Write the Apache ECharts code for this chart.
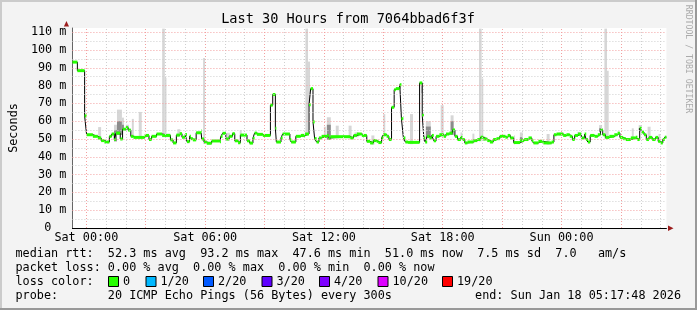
<!DOCTYPE html>
<html><head><meta charset="utf-8">
<script src="https://cdn.jsdelivr.net/npm/echarts@6/dist/echarts.min.js"></script>
<style>html,body{margin:0;padding:0;background:#f3f3f3}#c{width:697px;height:310px}</style>
</head><body><div id="c"></div><script>
// ---------------- data ----------------
const titleText = 'Last 30 Hours from 7064bbad6f3f';
const yAxisName = 'Seconds';
const watermark = 'RRDTOOL / TOBI OETIKER';
// minutes after window start (Fri 23:17:48); window is 30 h = 1800 min
const windowMinutes = 1800;
const xLabels = ['Sat 00:00', 'Sat 06:00', 'Sat 12:00', 'Sat 18:00', 'Sun 00:00'];
const xLabelTimes = [42.2, 402.2, 762.2, 1122.2, 1482.2];
const firstHour = 42.2;
const yMax = 112.36;
// median rtt (ms), step function: value holds from time until next time
const medianTimes = [0,15,37,43,62,77,87,97,112,119,127,132,145,152,162,169,177,185,219,232,240,255,272,297,305,
  315,325,332,342,347,355,359,365,375,390,392,399,407,422,447,450,455,465,475,485,492,502,509,529,537,547,552,559,577,
  600,607,615,618,632,637,659,663,677,692,705,717,722,729,734,740,747,755,772,777,782,842,852,862,877,892,902,
  912,922,927,937,942,952,959,967,975,980,992,997,1003,1009,1017,1052,1060,1065,1069,1075,1082,1089,1095,1102,1112,
  1125,1132,1142,1152,1159,1167,1177,1182,1189,1197,1215,1227,1237,1245,1257,1265,1275,1285,1295,1312,1319,1327,1337,
  1357,1369,1382,1392,1397,1412,1427,1452,1459,1467,1487,1497,1507,1515,1522,1532,1542,1552,1557,1562,1569,1582,1592,
  1600,1607,1615,1627,1642,1652,1659,1669,1677,1692,1707,1712,1719,1725,1732,1739,1747,1757,1767,1775,1782,1789,1795];
const medianValues = [93.2,88.4,63,52.4,51.5,50.6,49.1,48.3,51.5,52.8,49.7,53.3,50,55.5,56.4,55,51.5,50.9,52,49.7,51.5,52.8,52,49.5,47.8,
  52.2,53,51,52.5,48.5,51.6,50.2,49.5,53.5,54.5,50,48.3,47.6,48.9,48.5,51.5,53.2,50,51.5,53,49,47.9,52.2,49,47.7,50.5,53.3,52.6,52,
  69,75,56,48.3,50.6,52.8,49.7,48.3,51.5,52,52.8,69.3,78.3,59.6,50.2,48.3,50.6,51.5,52,50.6,51.3,50.6,52,52.8,52,48.7,47.8,
  49.1,48.7,48,50.6,52.4,51.5,49.7,67.8,77.7,78.3,80.5,61.4,50.6,48.3,48.1,81.5,63.3,50.6,48.3,51.5,50.6,52,49,51.5,52.4,
  51.5,52.8,53.3,55.1,51.5,49.7,50.9,49.7,47.8,48.3,49.1,49.7,51,50,49.1,48.3,49.7,50.2,51.5,51,52,50.6,48,
  49.1,49.7,50.6,49.1,47.8,48.7,47.8,48.3,52.4,52.8,52,52.4,51.5,49.7,52,52.8,50.6,52.8,49.7,48.3,52,51.5,52.4,
  55.1,52.4,50.9,51.5,52.4,53.3,50.9,50.2,49.7,50.6,51,49.7,56,53.9,52.4,49.7,50.9,49.7,50.9,48.7,47.8,49.7,51];
// smoke (spread of the 20 pings): start/end minute, max value, darker inner band top (0 = none)
const smokeStart = [78,126,135,150,162,180,201,272,280,285,318,396,468,507,696,706,714,762,771,798,837,855,906,942,1002,1023,1056,1071,1116,1146,1176,1212,1232,1240,1242,1338,1356,1437,1473,1530,1596,1612,1620,1695,1716,1743,1776];
const smokeEnd   = [87,135,150,156,171,186,210,280,285,297,327,402,477,513,706,714,720,768,783,807,846,867,915,948,1008,1032,1062,1086,1125,1155,1182,1218,1240,1245,1251,1341,1365,1446,1488,1539,1605,1620,1625,1701,1725,1752,1782];
const smokeMax   = [56.7,58,66.5,62,58,61.3,65.2,112,84.4,53,55.5,95.5,53.5,55,53,112,93.5,56.9,62.2,57.5,57.5,53.7,52,64,51,64,75.8,60,69,63.3,53.7,53,112,84,51.5,52,53.7,52.8,53.7,54,57.8,112,88.4,56,57.8,56.9,52.8];
const smokeDark  = [0,55,60,58,56,0,0,0,0,0,0,0,0,0,0,0,0,0,58,0,0,0,0,0,0,0,0,57,0,60,0,0,0,0,0,0,51,0,0,0,56,0,0,0,56,0,0];
// legend texts
const legendLine1 = 'median rtt:  52.3 ms avg  93.2 ms max  47.6 ms min  51.0 ms now  7.5 ms sd  7.0   am/s';
const legendLine2 = 'packet loss: 0.00 % avg  0.00 % max  0.00 % min  0.00 % now';
const legendLine3 = 'loss color:';
const lossLabels = ['0', '1/20', '2/20', '3/20', '4/20', '10/20', '19/20'];
const lossColors = ['#26ff00', '#00b8ff', '#0059ff', '#5e00ff', '#7e00ff', '#dd00ff', '#ff0000'];
const legendLine4 = 'probe:       20 ICMP Echo Pings (56 Bytes) every 300s';
const legendEnd = 'end: Sun Jan 18 05:17:48 2026';

// ---------------- layout / style ----------------
const MONO = '"DejaVu Sans Mono", monospace';
const FS = 11.8;
const lossBoxX = [108, 145.5, 203, 261.5, 319, 377.5, 442];
const gridLeft = 66.43, gridTop = 28, gridW = 600, gridH = 200;

function medianAt(t) {
  let v = medianValues[0];
  for (let i = 0; i < medianTimes.length; i++) { if (medianTimes[i] <= t) v = medianValues[i]; }
  return v;
}

const stepData = medianTimes.map((t, i) => [t, medianValues[i]]);
stepData.push([windowMinutes, medianValues[medianValues.length - 1]]);
const greenData = medianTimes.map((t, i) => [t, i + 1 < medianTimes.length ? medianTimes[i + 1] : windowMinutes, medianValues[i]]);
const smokeData = smokeStart.map((s, i) => [s, smokeEnd[i], medianAt((s + smokeEnd[i]) / 2) - 1, smokeMax[i], smokeDark[i]]);

const gridMarks = [];
for (let h = 0; firstHour + 60 * h < windowMinutes; h++) {
  gridMarks.push({ xAxis: firstHour + 60 * h, lineStyle: { color: h % 3 === 0 ? '#f3a0a0' : '#cfcfcf', type: [1, 2], width: 1 } });
}
for (let v = 5; v <= 110; v += 5) {
  gridMarks.push({ yAxis: v, lineStyle: { color: v % 10 === 0 ? '#f3a0a0' : '#cfcfcf', type: [1, 2], width: 1 } });
}

const graphics = [
  { type: 'rect', shape: { x: 0, y: 0, width: 697, height: 2 }, style: { fill: '#cbcbcb' } },
  { type: 'rect', shape: { x: 0, y: 0, width: 2, height: 310 }, style: { fill: '#cbcbcb' } },
  { type: 'rect', shape: { x: 0, y: 308, width: 697, height: 2 }, style: { fill: '#999999' } },
  { type: 'rect', shape: { x: 695, y: 0, width: 2, height: 310 }, style: { fill: '#999999' } },
  { type: 'text', x: 348, y: 19.5, style: { text: titleText, fontFamily: MONO, fontSize: 13.6, fill: '#000', align: 'center', verticalAlign: 'middle' } },
  { type: 'text', x: 688, y: 59, rotation: -Math.PI / 2, style: { text: watermark, fontFamily: MONO, fontSize: 8.2, fill: '#aaaaaa', align: 'center', verticalAlign: 'middle' } },
  { type: 'polygon', shape: { points: [[63.9, 26.5], [69, 26.5], [66.45, 21]] }, style: { fill: '#9b1c1c' } },
  { type: 'polygon', shape: { points: [[668, 225.5], [668, 231], [673.5, 228.25]] }, style: { fill: '#9b1c1c' } },
  { type: 'text', x: 15.5, y: 254.3, style: { text: legendLine1, fontFamily: MONO, fontSize: FS, fill: '#000', verticalAlign: 'middle' } },
  { type: 'text', x: 15.5, y: 268.3, style: { text: legendLine2, fontFamily: MONO, fontSize: FS, fill: '#000', verticalAlign: 'middle' } },
  { type: 'text', x: 15.5, y: 282, style: { text: legendLine3, fontFamily: MONO, fontSize: FS, fill: '#000', verticalAlign: 'middle' } },
  { type: 'text', x: 15.5, y: 296, style: { text: legendLine4, fontFamily: MONO, fontSize: FS, fill: '#000', verticalAlign: 'middle' } },
  { type: 'text', x: 681, y: 296, style: { text: legendEnd, fontFamily: MONO, fontSize: FS, fill: '#000', align: 'right', verticalAlign: 'middle' } }
];
lossLabels.forEach((lab, i) => {
  graphics.push({ type: 'rect', shape: { x: lossBoxX[i] + 0.5, y: 276.5, width: 10, height: 10 }, style: { fill: lossColors[i], stroke: '#000', lineWidth: 1 } });
  graphics.push({ type: 'text', x: lossBoxX[i] + 15, y: 282, style: { text: lab, fontFamily: MONO, fontSize: FS, fill: '#000', verticalAlign: 'middle' } });
});

const chart = echarts.init(document.getElementById('c'), null, { renderer: 'canvas' });
chart.setOption({
  animation: false,
  backgroundColor: '#f3f3f3',
  grid: { left: gridLeft, top: gridTop, width: gridW, height: gridH, show: true, backgroundColor: '#ffffff', borderWidth: 0 },
  xAxis: {
    type: 'value', min: 0, max: windowMinutes,
    axisLine: { show: true, lineStyle: { color: '#000', width: 1 } },
    axisTick: { show: false }, splitLine: { show: false },
    axisLabel: {
      customValues: xLabelTimes,
      formatter: v => { const i = xLabelTimes.findIndex(t => Math.abs(t - v) < 0.01); return i >= 0 ? xLabels[i] : ''; },
      fontFamily: MONO, fontSize: FS, color: '#000', margin: 4
    }
  },
  yAxis: {
    type: 'value', min: 0, max: yMax, interval: 10,
    name: yAxisName, nameLocation: 'middle', nameGap: 52,
    nameTextStyle: { fontFamily: MONO, fontSize: FS, color: '#000' },
    axisLine: { show: true, lineStyle: { color: '#666', width: 1 } },
    axisTick: { show: false }, splitLine: { show: false },
    axisLabel: {
      formatter: v => { const r = Math.round(v); if (Math.abs(r - v) > 0.01 || r % 10 !== 0 || r > 110) return ''; return r === 0 ? '{z|0}' : r + ' m'; },
      rich: { z: { fontFamily: MONO, fontSize: FS, color: '#000', padding: [0, 15, 0, 0] } },
      fontFamily: MONO, fontSize: FS, color: '#000', margin: 6
    }
  },
  graphic: graphics,
  series: [
    { type: 'line', data: [], z: 1, silent: true,
      markLine: { silent: true, symbol: ['none', 'none'], label: { show: false }, emphasis: { disabled: true }, data: gridMarks } },
    { type: 'custom', z: 2, silent: true, clip: true, data: smokeData,
      renderItem: (params, api) => {
        const s = api.value(0), e = api.value(1), lo = api.value(2), hi = api.value(3), dk = api.value(4);
        const a = api.coord([s, hi]), b = api.coord([e, lo]);
        const children = [{ type: 'rect', shape: { x: a[0], y: a[1], width: b[0] - a[0], height: b[1] - a[1] }, style: { fill: '#d6d6d6' } }];
        if (dk > 0) {
          const c = api.coord([s, dk]);
          children.push({ type: 'rect', shape: { x: c[0], y: c[1], width: b[0] - c[0], height: b[1] - c[1] }, style: { fill: '#8c8c8c' } });
        }
        return { type: 'group', children };
      } },
    { type: 'line', z: 3, silent: true, step: 'end', data: stepData, symbol: 'none',
      lineStyle: { color: '#000', width: 1 } },
    { type: 'custom', z: 4, silent: true, clip: true, data: greenData,
      renderItem: (params, api) => {
        const a = api.coord([api.value(0), api.value(2)]), b = api.coord([api.value(1), api.value(2)]);
        return { type: 'rect', shape: { x: a[0], y: a[1] - 1.5, width: b[0] - a[0], height: 3 }, style: { fill: lossColors[0] } };
      } }
  ]
});
</script></body></html>
